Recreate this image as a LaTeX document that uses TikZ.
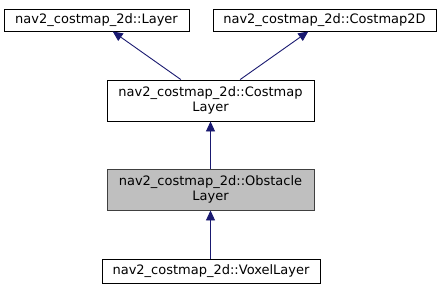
\documentclass[tikz,border=0pt]{standalone}
\usepackage{fontspec}
\setmainfont{DejaVu Sans}
\usepackage{tikz}
\usetikzlibrary{arrows.meta,positioning}
\usepackage{xcolor}
\definecolor{cNavy}{RGB}{25,25,112}
\definecolor{cGray}{RGB}{191,191,191}
\definecolor{cEdge}{RGB}{64,64,64}
\tikzset{
  basebox/.style={rectangle,draw=black,line width=0.9pt,fill=white,
                  align=center,inner sep=0pt,
                  font=\fontsize{13}{15}\selectfont},
  classnode/.style={basebox,minimum height=22pt},
  twonode/.style={basebox,minimum width=207pt,minimum height=41pt},
  curnode/.style={twonode,fill=cGray,draw=cEdge},
  inharr/.style={{Triangle[length=10pt,width=9pt]}-,line width=0.9pt,color=cNavy}
}
\begin{document}
\begin{tikzpicture}[x=1pt,y=-1pt]
  \useasboundingbox (0,0) rectangle (443,291);

  % base classes
  \node[classnode,minimum width=185pt] (layer) at (96.5,20) {nav2\_costmap\_2d::Layer};
  \node[classnode,minimum width=223pt] (costmap) at (324.5,20) {nav2\_costmap\_2d::Costmap2D};

  % derived chain
  \node[twonode] (costlayer) at (210.5,100.5) {nav2\_costmap\_2d::Costmap\\Layer};
  \node[curnode] (obstacle) at (210.5,189.5) {nav2\_costmap\_2d::Obstacle\\Layer};
  \node[classnode,minimum width=218pt,minimum height=24pt] (voxel) at (211,271) {nav2\_costmap\_2d::VoxelLayer};

  % inheritance arrows
  \draw[inharr] (layer) -- (costlayer);
  \draw[inharr] (costmap) -- (costlayer);
  \draw[inharr] (costlayer) -- (obstacle);
  \draw[inharr] (obstacle.south) -- (obstacle.south |- voxel.north);
\end{tikzpicture}
\end{document}
